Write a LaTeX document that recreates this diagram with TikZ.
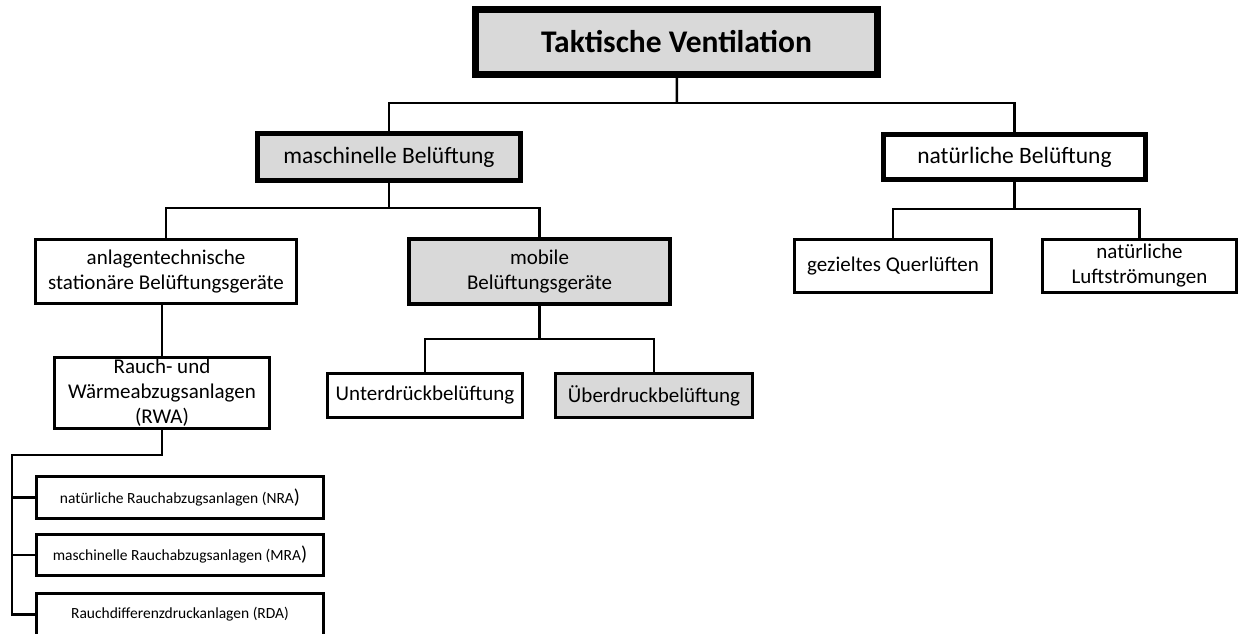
\documentclass[tikz,border=0pt]{standalone}
\usepackage{fontspec}
\setmainfont{Carlito}
\definecolor{boxgray}{RGB}{217,217,217}

\tikzset{
  box/.style={draw=black,line width=3pt,fill=white,align=center,inner sep=0pt,
    font=\fontsize{21}{25}\selectfont},
  greybox/.style={box,fill=boxgray},
  smallbox/.style={box,font=\fontsize{15.5}{18}\selectfont},
  link/.style={line width=2.5pt}
}

\begin{document}
\begin{tikzpicture}[x=1pt,y=-1pt]
  \useasboundingbox (0,0) rectangle (1240,633);
  \clip (0,0) rectangle (1240,633);
  % title
  \node[greybox,line width=7pt,minimum width=402pt,minimum height=65pt,
    font=\fontsize{31.5}{35}\selectfont\bfseries] (tv) at(676.5,42){Taktische Ventilation};
  % level 1
  \node[greybox,line width=5pt,minimum width=263pt,minimum height=47pt,
    font=\fontsize{23.5}{27}\selectfont] (masch) at(389,157){maschinelle Belüftung};
  \node[box,line width=5pt,minimum width=262pt,minimum height=45pt,
    font=\fontsize{23.5}{27}\selectfont] (nat) at(1014.5,157){natürliche Belüftung};
  % level 2
  \node[box,minimum width=261pt,minimum height=64pt] (anl) at(166,271.5){anlagentechnische\\stationäre Belüftungsgeräte};
  \node[greybox,line width=4pt,minimum width=261pt,minimum height=65pt] (mob) at(539.5,271.5){mobile\\Belüftungsgeräte};
  \node[box,minimum width=197pt,minimum height=53pt] (gez) at(893,266){gezieltes Querlüften};
  \node[box,minimum width=194pt,minimum height=53pt] (luft) at(1139.5,266){natürliche\\Luftströmungen};
  % level 3
  \node[box,minimum width=215pt,minimum height=71pt] (rwa) at(162,393){Rauch- und\\Wärmeabzugsanlagen\\(RWA)};
  \node[box,minimum width=195pt,minimum height=44pt] (unter) at(425,395.5){Unterdrückbelüftung};
  \node[greybox,minimum width=197pt,minimum height=44pt] (ueber) at(654,395.5){Überdruckbelüftung};
  % level 4
  \node[smallbox,minimum width=287pt,minimum height=42pt] (nra) at(180,497.5){natürliche Rauchabzugsanlagen (NRA{\fontsize{20}{20}\selectfont)}};
  \node[smallbox,minimum width=287pt,minimum height=41pt] (mra) at(180,555){maschinelle Rauchabzugsanlagen (MRA{\fontsize{20}{20}\selectfont)}};
  \node[smallbox,minimum width=287pt,minimum height=42pt] (rda) at(180,614.5){Rauchdifferenzdruckanlagen (RDA)};
  % junctions
  \coordinate (j1) at(677,103);
  \coordinate (j2) at(389,208);
  \coordinate (j3) at(1014.5,209);
  \coordinate (j4) at(539.5,339);
  \coordinate (j5) at(12,455);
  % lines
  \draw[link] (tv) -- (j1);
  \draw[link] (masch.north) |- (j1) -| (nat.north);
  \draw[link] (masch) -- (j2);
  \draw[link] (anl.north) |- (j2) -| (mob.north);
  \draw[link] (nat) -- (j3);
  \draw[link] (gez.north) |- (j3) -| (luft.north);
  \draw[link] (rwa.north) -- (rwa.north |- anl.south);
  \draw[link] (mob) -- (j4);
  \draw[link] (unter.north) |- (j4) -| (ueber.north);
  \draw[link] (rwa.south) |- (j5) |- (rda.west);
  \draw[link] (j5) |- (nra.west);
  \draw[link] (j5) |- (mra.west);
\end{tikzpicture}
\end{document}
